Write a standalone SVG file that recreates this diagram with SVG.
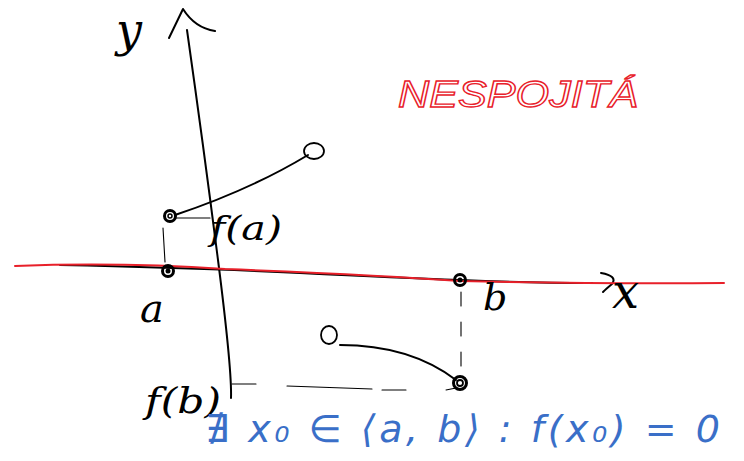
<svg xmlns="http://www.w3.org/2000/svg" width="744" height="461" viewBox="0 0 744 461">
<style>
.ink{fill:none;stroke:#000;stroke-width:2;stroke-linecap:round;stroke-linejoin:round}
.thin{fill:none;stroke:#000;stroke-width:1.1;stroke-linecap:round}
.red{fill:none;stroke:#e8202a;stroke-width:2;stroke-linecap:round}
.lbl{font-family:"DejaVu Serif","Liberation Serif",serif;font-style:italic;fill:#000}
.blue{font-family:"DejaVu Sans","Liberation Sans",sans-serif;font-style:italic;fill:#3a6fc8}
.redt{font-family:"Liberation Sans","DejaVu Sans",sans-serif;font-style:italic;fill:none;stroke:#e8202a;stroke-width:1.3}
.dot{fill:none;stroke:#000;stroke-width:3}
</style>
<rect width="744" height="461" fill="#fff"/>
<g id="axes">
  <path class="ink" d="M187,30 Q204,150 218,260 T231,398"/>
  <path class="ink" d="M169,38 L183,9 Q195,28 215,31"/>
  <path class="ink" d="M60,265 Q200,268 300,273 T460,280 Q530,283 592,283"/>
  <path class="ink" d="M601,273 Q618,276 612,284 Q606,289 603,292"/>
  <path class="red" d="M15,266 Q120,262 225,269 Q380,275 460,281 Q600,284 724,283"/>
</g>
<g id="connectors">
  <path class="ink" d="M175,215 Q250,190 308,155"/>
  <path class="thin" d="M176,218 L210,218"/>
  <path class="thin" d="M163,228 L165,262"/>
  <path class="thin" d="M461,292 L461,368" stroke-dasharray="14 16"/>
  <path class="ink" d="M340,345 Q410,345 456,380" stroke-width="1.6"/>
  <path class="thin" d="M232,384 L256,384 M287,386 L372,389 M382,390 L406,390 M446,390 L456,388"/>
</g>
<g id="point-fa">
  <circle class="dot" cx="170" cy="216" r="5.5"/>
  <circle cx="170" cy="216" r="2" fill="none" stroke="#000" stroke-width="1.5"/>
</g>
<g id="point-open-top"><ellipse cx="314" cy="151" rx="10" ry="8" fill="none" stroke="#000" stroke-width="1.8"/></g>
<g id="point-a">
  <circle class="dot" cx="168" cy="271" r="5.5"/>
  <circle cx="168" cy="271" r="2.5" fill="#000"/>
</g>
<g id="point-b">
  <circle class="dot" cx="460" cy="280" r="5.5"/>
  <circle cx="460" cy="280" r="2.5" fill="#000"/>
</g>
<g id="point-open-bottom"><ellipse cx="329" cy="335" rx="8" ry="9" fill="none" stroke="#000" stroke-width="1.8"/></g>
<g id="point-fb">
  <circle class="dot" cx="460" cy="383" r="6.5"/>
  <circle cx="460" cy="383" r="3" fill="none" stroke="#000" stroke-width="1.8"/>
</g>
<g id="labels">
  <text class="lbl" x="116" y="46" font-size="46">y</text>
  <text class="lbl" x="612" y="308" font-size="48">x</text>
  <text class="lbl" x="140" y="322" font-size="40">a</text>
  <text class="lbl" x="483" y="310" font-size="38">b</text>
  <text class="lbl" x="210" y="240" font-size="34" textLength="72" lengthAdjust="spacingAndGlyphs">f(a)</text>
  <text class="lbl" x="145" y="413" font-size="36" textLength="76" lengthAdjust="spacingAndGlyphs">f(b)</text>
  <text class="redt" x="398" y="107" font-size="36" textLength="240" lengthAdjust="spacingAndGlyphs">NESPOJITÁ</text>
  <text class="blue" x="205" y="442" font-size="38" textLength="515" lengthAdjust="spacing">∄ x₀ ∈ ⟨a, b⟩ : f(x₀) = 0</text>
</g>
</svg>
